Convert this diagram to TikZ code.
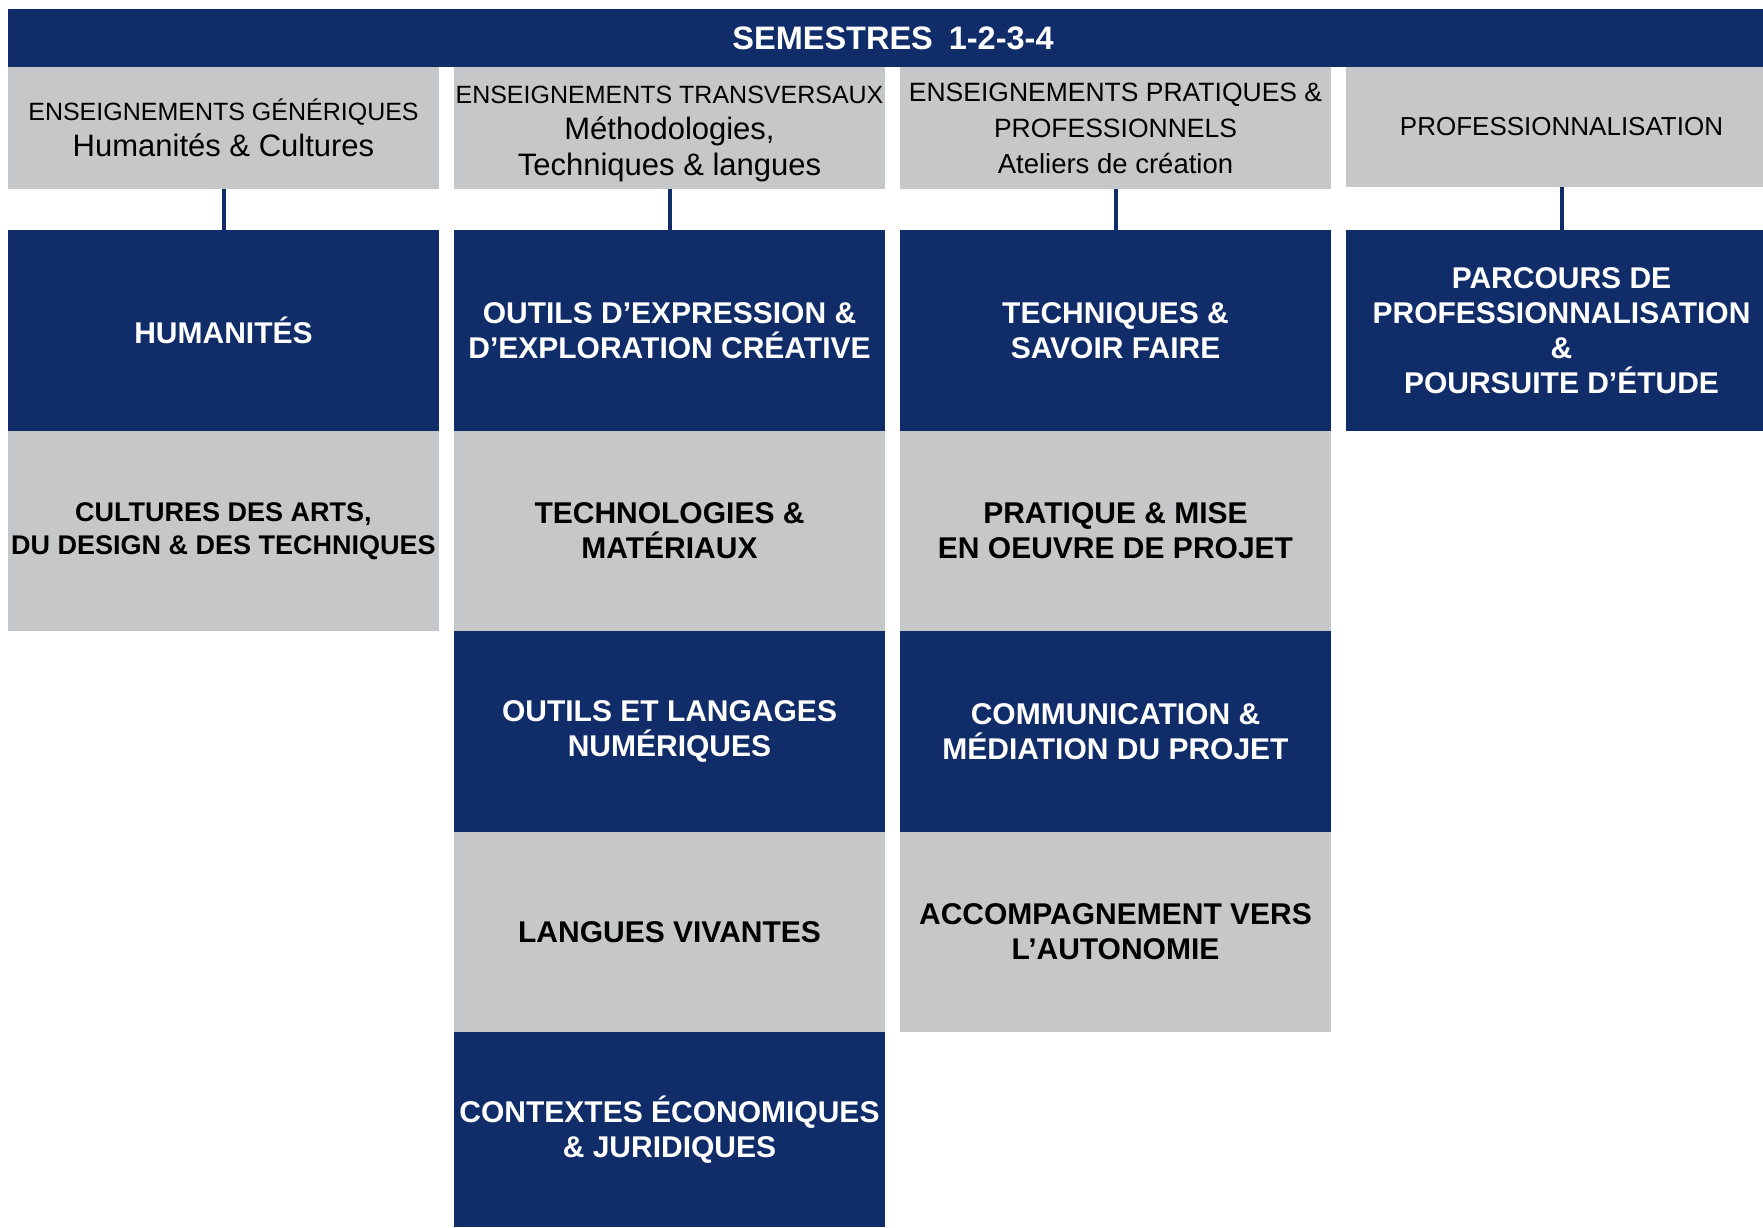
\documentclass[tikz,border=0pt]{standalone}
\usepackage{fontspec}
\setmainfont{Liberation Sans}
\usetikzlibrary{positioning}
\definecolor{navy}{HTML}{102D69}
\definecolor{pale}{HTML}{C6C7C9}
\newcommand\mixline[1]{{\fontsize{31}{36}\selectfont #1}}

\begin{document}
\begin{tikzpicture}[x=1pt, y=1pt,
	titlebar/.style={rectangle, fill=navy, text=white, font=\fontsize{32.5}{36}\selectfont\bfseries, minimum width=1770pt, minimum height=58pt, inner sep=0pt, outer sep=0pt},
	headbox/.style={rectangle, fill=pale, text=black, align=center, font=\fontsize{25}{36}\selectfont, minimum width=431pt, minimum height=122pt, inner sep=0pt, outer sep=0pt},
	darkbox/.style={rectangle, fill=navy, text=white, align=center, font=\fontsize{30}{35}\selectfont\bfseries, minimum width=431pt, minimum height=200.5pt, inner sep=0pt, outer sep=0pt},
	lightbox/.style={darkbox, fill=pale, text=black},
	link/.style={draw=navy, line width=4pt},
	node distance=0pt,
	]
	\useasboundingbox (0,0) rectangle (1763,-1227);
	\clip (0,0) rectangle (1763,-1227);
	%Nodes
	\node[titlebar] (sem) at (893,-38) {SEMESTRES\hspace{16pt}1-2-3-4};
	
	\node[headbox] (h1) [below right=0pt of sem.south west] {ENSEIGNEMENTS GÉNÉRIQUES\\\mixline{Humanités \& Cultures}};
	\node[headbox] (h2) [right=15pt of h1] {\rule{0pt}{30pt}ENSEIGNEMENTS TRANSVERSAUX\\\mixline{Méthodologies,}\\\mixline{Techniques \& langues}};
	\node[headbox, font=\fontsize{26.5}{36}\selectfont] (h3) [right=15pt of h2] {ENSEIGNEMENTS PRATIQUES \&\\PROFESSIONNELS\\{\fontsize{27.5}{36}\selectfont Ateliers de création}};
	\node[headbox, font=\fontsize{26}{36}\selectfont, minimum height=120pt, anchor=north west] (h4) at ([xshift=15pt]h3.north east) {PROFESSIONNALISATION};
	
	\node[darkbox]  (hum)   [below=41pt of h1] {HUMANITÉS};
	\node[lightbox, font=\fontsize{27}{33}\selectfont\bfseries] (cult) [below=of hum] {CULTURES DES ARTS,\\DU DESIGN \& DES TECHNIQUES};
	
	\node[darkbox]  (expr)  [below=41pt of h2] {OUTILS D’EXPRESSION \&\\D’EXPLORATION CRÉATIVE};
	\node[lightbox] (techno) [below=of expr] {TECHNOLOGIES \&\\MATÉRIAUX};
	\node[darkbox]  (numer) [below=of techno] {OUTILS ET LANGAGES\\NUMÉRIQUES};
	\node[lightbox] (lang)  [below=of numer] {LANGUES VIVANTES};
	\node[darkbox, minimum height=195pt] (eco) [below=of lang] {CONTEXTES ÉCONOMIQUES\\\& JURIDIQUES};
	
	\node[darkbox]  (savoir) [below=41pt of h3] {TECHNIQUES \&\\SAVOIR FAIRE};
	\node[lightbox] (projet) [below=of savoir] {PRATIQUE \& MISE\\EN OEUVRE DE PROJET};
	\node[darkbox]  (media)  [below=of projet] {COMMUNICATION \&\\MÉDIATION DU PROJET};
	\node[lightbox] (auto)   [below=of media] {ACCOMPAGNEMENT VERS\\L’AUTONOMIE};
	
	\node[darkbox] (parc) [below=43pt of h4] {PARCOURS DE\\PROFESSIONNALISATION\\\&\\POURSUITE D’ÉTUDE};
	
	%Lines
	\draw[link] (h1) -- (hum);
	\draw[link] (h2) -- (expr);
	\draw[link] (h3) -- (savoir);
	\draw[link] (h4) -- (parc);
\end{tikzpicture}
\end{document}
